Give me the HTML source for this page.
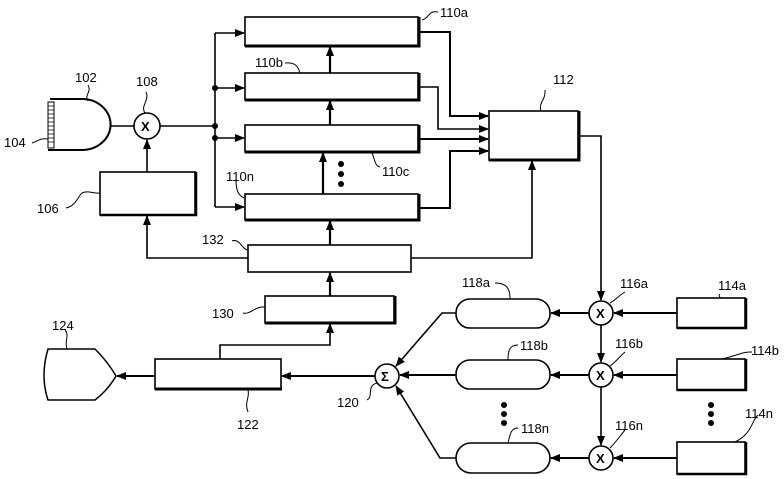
<!DOCTYPE html>
<html><head><meta charset="utf-8"><style>html,body{margin:0;padding:0;background:#fff}svg{display:block}text{font-family:"Liberation Sans",sans-serif;font-size:13px;fill:#000}</style></head><body>
<svg width="784" height="479" viewBox="0 0 784 479" xmlns="http://www.w3.org/2000/svg">
<defs><marker id="a" markerWidth="10" markerHeight="8" refX="9" refY="4" orient="auto" markerUnits="userSpaceOnUse"><path d="M0,0 L10,4 L0,8 z" fill="#000"/></marker></defs>
<g fill="none" stroke="#000" stroke-width="1.6">
<!-- 110 boxes -->
<rect x="245" y="17" width="173" height="29"/><path d="M245,46 H419 V17" stroke-width="3"/>
<rect x="245" y="73" width="173" height="27"/><path d="M245,100 H419 V73" stroke-width="3"/>
<rect x="245" y="125" width="173" height="27"/><path d="M245,152 H419 V125" stroke-width="3"/>
<rect x="245" y="194" width="173" height="26"/><path d="M245,220 H419 V194" stroke-width="3"/>
<rect x="248" y="245" width="163" height="27"/>
<rect x="265" y="296" width="129" height="27"/><path d="M265,323 H395 V296" stroke-width="3"/>
<rect x="100" y="172" width="95" height="43"/><path d="M100,215 H196 V172" stroke-width="2.5"/>
<rect x="489" y="111" width="89" height="49"/><path d="M489,160 H579 V111" stroke-width="3"/>
<rect x="155" y="359" width="126" height="30"/><path d="M155,389 H282" stroke-width="3"/>
<!-- 114 -->
<rect x="677" y="298" width="68" height="30"/><path d="M677,328 H746 V298" stroke-width="2.5"/>
<rect x="677" y="359" width="68" height="31"/><path d="M677,390 H746 V359" stroke-width="2.5"/>
<rect x="677" y="442" width="68" height="32"/><path d="M677,474 H746 V442" stroke-width="2.5"/>
<!-- 118 pills -->
<rect x="456" y="299" width="94" height="29" rx="14"/>
<rect x="456" y="360" width="94" height="29" rx="14"/>
<rect x="456" y="443" width="94" height="30" rx="15"/>
<!-- circles -->
<circle cx="147" cy="126" r="13"/>
<circle cx="601" cy="313" r="12"/><circle cx="601" cy="375" r="12"/><circle cx="601" cy="458" r="12"/>
<circle cx="387" cy="376" r="12"/>
<!-- 102 -->
<path d="M50,99 H82 A28,25 0 0 1 82,150 H48" stroke-width="2"/>
<rect x="48" y="102" width="6" height="46" stroke-width="1"/>
<path d="M48,106h6M48,110h6M48,114h6M48,118h6M48,122h6M48,126h6M48,130h6M48,134h6M48,138h6M48,142h6" stroke-width="0.8"/>
<!-- 124 -->
<path d="M48,349 H95 Q108,362 116,376 Q108,390 95,400 H48 Q40,376 48,349 Z" stroke-width="1.5"/>
<!-- connections -->
<path d="M110,126 H134"/><path d="M160,126 H215"/>
<path d="M147,172 V140" marker-end="url(#a)"/>
<path d="M215,33 V207"/>
<path d="M215,33 H244" marker-end="url(#a)"/>
<path d="M215,88 H244" marker-end="url(#a)"/>
<path d="M215,138 H244" marker-end="url(#a)"/>
<path d="M215,207 H244" marker-end="url(#a)"/>
<path d="M330,73 V47" stroke-width="2.2" marker-end="url(#a)"/>
<path d="M330,125 V101" stroke-width="2.2" marker-end="url(#a)"/>
<path d="M323,194 V153" stroke-width="2.2" marker-end="url(#a)"/>
<path d="M330,245 V221" stroke-width="2.2" marker-end="url(#a)"/>
<path d="M330,296 V273" stroke-width="2.2" marker-end="url(#a)"/>
<path d="M248,258 H147 V216" marker-end="url(#a)"/>
<path d="M418,32 H450 V116 H488" stroke-width="2" marker-end="url(#a)"/>
<path d="M418,87 H438 V129 H488" marker-end="url(#a)"/>
<path d="M418,139 H488" stroke-width="2" marker-end="url(#a)"/>
<path d="M418,208 H450 V151 H488" stroke-width="2" marker-end="url(#a)"/>
<path d="M411,258 H532 V161" marker-end="url(#a)"/>
<path d="M578,136 H601 V300" marker-end="url(#a)"/>
<path d="M601,325 V362" marker-end="url(#a)"/>
<path d="M601,387 V445" marker-end="url(#a)"/>
<path d="M677,313 H614" stroke-width="2" marker-end="url(#a)"/>
<path d="M677,375 H614" stroke-width="2" marker-end="url(#a)"/>
<path d="M677,458 H614" stroke-width="2" marker-end="url(#a)"/>
<path d="M589,313 H551" stroke-width="2" marker-end="url(#a)"/>
<path d="M589,375 H551" stroke-width="2" marker-end="url(#a)"/>
<path d="M589,458 H551" stroke-width="2" marker-end="url(#a)"/>
<path d="M456,375 H400" stroke-width="2" marker-end="url(#a)"/>
<path d="M456,313 H442 L396,366" marker-end="url(#a)"/>
<path d="M456,458 H440 L396,386" marker-end="url(#a)"/>
<path d="M375,376 H282" stroke-width="2" marker-end="url(#a)"/>
<path d="M155,376 H117" stroke-width="2" marker-end="url(#a)"/>
<path d="M220,359 V345 H330 V324" marker-end="url(#a)"/>
<!-- leaders -->
<path d="M422,20 C430,18 428,10 438,12" stroke-width="1"/>
<path d="M88,101 C84,95 92,92 88,85" stroke-width="1"/>
<path d="M145,113 C140,106 150,100 146,92" stroke-width="1"/>
<path d="M32,143 C40,140 40,138 48,139" stroke-width="1"/>
<path d="M66,208 C76,206 78,196 82,193 C88,190 94,194 100,193" stroke-width="1"/>
<path d="M285,63 C295,62 298,66 300,73" stroke-width="1"/>
<path d="M380,167 C375,166 375,160 372,153" stroke-width="1"/>
<path d="M236,180 C236,190 238,195 244,198" stroke-width="1"/>
<path d="M232,241 C240,238 242,250 248,250" stroke-width="1"/>
<path d="M541,111 C538,103 546,100 545,90" stroke-width="1"/>
<path d="M243,313 C250,315 255,306 265,307" stroke-width="1"/>
<path d="M65,330 C70,336 64,340 67,349" stroke-width="1"/>
<path d="M248,390 C250,398 244,402 248,412" stroke-width="1"/>
<path d="M367,400 C374,396 366,386 377,383" stroke-width="1"/>
<path d="M495,283 C508,283 510,290 510,299" stroke-width="1"/>
<path d="M518,345 C510,345 508,350 508,360" stroke-width="1"/>
<path d="M518,428 C510,428 510,436 508,443" stroke-width="1"/>
<path d="M625,292 C618,296 616,300 610,303" stroke-width="1"/>
<path d="M625,352 C620,356 616,362 610,366" stroke-width="1"/>
<path d="M625,430 C620,436 616,442 610,448" stroke-width="1"/>
<path d="M720,294 C718,296 720,296 720,298" stroke-width="1"/>
<path d="M752,352 C740,352 740,355 722,359" stroke-width="1"/>
<path d="M758,415 C752,420 752,434 735,442" stroke-width="1"/>
</g>
<g fill="#000">
<circle cx="215" cy="88" r="3"/><circle cx="215" cy="126" r="3"/><circle cx="215" cy="138" r="3"/>
<circle cx="341" cy="164" r="3"/><circle cx="341" cy="174" r="3"/><circle cx="341" cy="184" r="3"/>
<circle cx="504" cy="405" r="3"/><circle cx="504" cy="414" r="3"/><circle cx="504" cy="423" r="3"/>
<circle cx="711" cy="405" r="3"/><circle cx="711" cy="414" r="3"/><circle cx="711" cy="423" r="3"/>
</g>
<g font-weight="bold" style="font-size:14px">
<text x="141" y="131">X</text>
<text x="596" y="318">X</text><text x="596" y="380">X</text><text x="596" y="463">X</text>
<text x="381" y="381">Σ</text>
</g>
<text x="440" y="17">110a</text>
<text x="255" y="67">110b</text>
<text x="382" y="176">110c</text>
<text x="226" y="181">110n</text>
<text x="553" y="84">112</text>
<text x="75" y="82">102</text>
<text x="136" y="86">108</text>
<text x="4" y="147">104</text>
<text x="37" y="213">106</text>
<text x="202" y="244">132</text>
<text x="212" y="318">130</text>
<text x="52" y="330">124</text>
<text x="237" y="429">122</text>
<text x="337" y="407">120</text>
<text x="462" y="287">118a</text>
<text x="520" y="350">118b</text>
<text x="521" y="433">118n</text>
<text x="620" y="288">116a</text>
<text x="615" y="348">116b</text>
<text x="615" y="430">116n</text>
<text x="718" y="290">114a</text>
<text x="751" y="355">114b</text>
<text x="745" y="418">114n</text>
</svg>
</body></html>
